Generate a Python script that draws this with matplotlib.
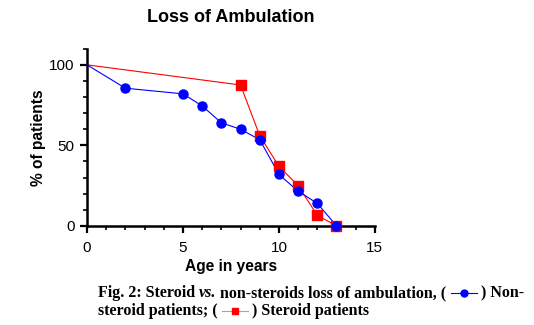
import matplotlib
matplotlib.use("Agg")
import matplotlib.pyplot as plt
from matplotlib.lines import Line2D
from matplotlib.ticker import MultipleLocator

# Percentage of patients still ambulant by age
age_nonsteroid = [0, 2, 5, 6, 7, 8, 9, 10, 11, 12, 13]
pct_nonsteroid = [100, 85.5, 82, 74.5, 64, 60, 53.5, 32, 21.5, 14, 0]
age_steroid = [0, 8, 9, 10, 11, 12, 13]
pct_steroid = [100, 87.5, 56, 37, 25, 6.5, 0]

x_ticks = [0, 5, 10, 15]
y_ticks = [0, 50, 100]

plt.rcParams['font.family'] = ['Liberation Sans', 'DejaVu Sans']

fig = plt.figure(figsize=(5.34, 3.25), dpi=100)
ax = fig.add_axes([0.163, 0.305, 0.539, 0.545])

ax.plot(age_nonsteroid, pct_nonsteroid, color='#0000ff', lw=0.8, zorder=3)
ax.plot(age_nonsteroid[1:], pct_nonsteroid[1:], 'o', color='#0000ff', ms=6.5, zorder=4)
ax.plot(age_steroid, pct_steroid, color='#ff0000', lw=0.8, zorder=2)
ax.plot(age_steroid[1:], pct_steroid[1:], 's', color='#ff0000', ms=6.5, zorder=3)

ax.set_xlim(0, 15)
ax.set_ylim(0, 110)
ax.set_xticks(x_ticks)
ax.set_yticks(y_ticks)
ax.xaxis.set_minor_locator(MultipleLocator(1))
ax.yaxis.set_minor_locator(MultipleLocator(10))
ax.tick_params(which='major', length=5, width=1.6, labelsize=11)
ax.tick_params(axis='x', which='major', pad=6)
ax.tick_params(axis='y', which='major', pad=4)
ax.tick_params(which='minor', length=3, width=1.2)
for s in ['top', 'right']:
    ax.spines[s].set_visible(False)
for s in ['left', 'bottom']:
    ax.spines[s].set_linewidth(1.8)
for ln in ax.lines:
    ln.set_clip_on(False)

ax.set_xlabel('Age in years', fontsize=11.2, fontweight='bold', labelpad=3)
ax.set_ylabel('% of patients', fontsize=11.2, fontweight='bold', labelpad=2)
fig.text(0.433, 0.945, 'Loss of Ambulation', fontsize=13, fontweight='bold',
         ha='center', va='center')

# Caption with inline legend symbols
cap_font = dict(family=['Liberation Serif', 'DejaVu Serif'], fontweight='bold', fontsize=11.5)
fig.canvas.draw()
renderer = fig.canvas.get_renderer()
W, H = fig.bbox.width, fig.bbox.height


def put_text(x, y, s, **kw):
    t = fig.text(x, y, s, va='baseline', ha='left', **cap_font, **kw)
    bb = t.get_window_extent(renderer)
    return x + bb.width / W


def put_symbol(x, y, color, marker):
    w = 26 / W
    ymid = y + 4 / H
    fig.add_artist(Line2D([x, x + w], [ymid, ymid], color=color, lw=0.8,
                          alpha=0.5 if marker == 's' else 1.0,
                          transform=fig.transFigure))
    fig.add_artist(Line2D([x + w / 2], [ymid], marker=marker, color=color,
                          ms=5, transform=fig.transFigure))
    return x + w


y1 = 1 - 297 / H
x = 98 / W
x = put_text(x, y1, 'Fig. 2: Steroid ')
x = put_text(x, y1, 'vs.', style='italic')
x += 4 / W
x = put_text(x, y1, 'non-steroids loss of ambulation, ( ')
x = put_symbol(x, y1, '#0000ff', 'o')
x = put_text(x, y1, ' ) Non-')

y2 = 1 - 315 / H
x = 98 / W
x = put_text(x, y2, 'steroid patients; ( ')
x = put_symbol(x, y2, '#ff0000', 's')
x = put_text(x, y2, ' ) Steroid patients')

fig.savefig('out.png', dpi=100)
